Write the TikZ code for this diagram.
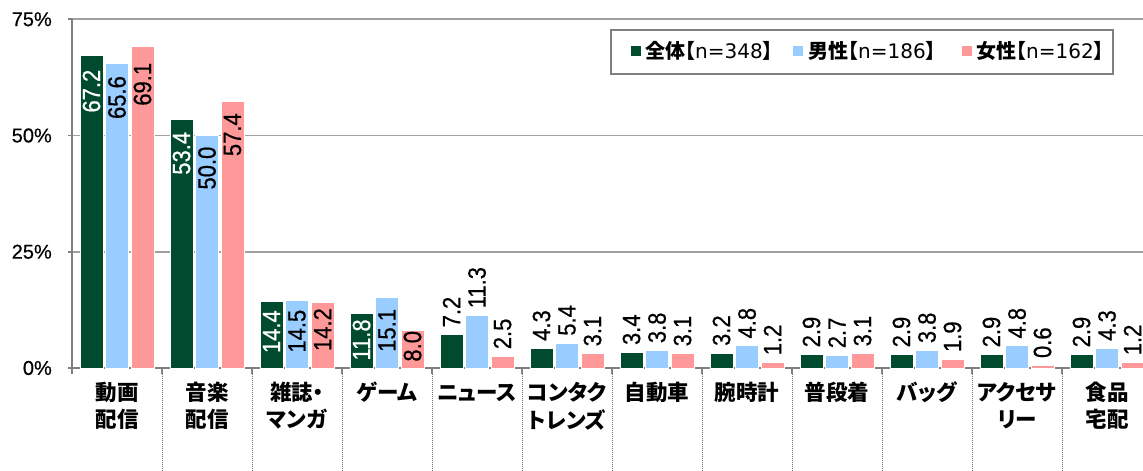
\documentclass[tikz,border=0pt]{standalone}
\usepackage{fontspec}
\setmainfont{Liberation Sans}
\newfontfamily\valfont{Liberation Sans}[FakeStretch=0.88,FakeBold=0.6]
\newfontfamily\ylabfont{Liberation Sans}[FakeBold=0.5]
\newfontfamily\cjkfont{Noto Sans CJK JP}[RawFeature={+palt}]
\newfontfamily\legnum{DejaVu Sans}
\definecolor{cdark}{RGB}{0,75,45}
\definecolor{cblue}{RGB}{153,204,255}
\definecolor{cpink}{RGB}{255,153,153}
\definecolor{cgrid}{RGB}{160,160,160}
\definecolor{caxis}{RGB}{128,128,128}
\definecolor{csep}{RGB}{110,110,110}
\newcommand\mybar[7]{%
  \path[barstyle, fill=#3] (#1,0) rectangle ++(23,{#2*4.65});
  \node[vallabel, text=#4, anchor=#5, rotate=90] (#7) at ({#1+11.5},{#2*4.65+#6}) {#2};
}
\begin{document}
\begin{tikzpicture}[x=1pt,y=1pt,
  gridline/.style={cgrid, line width=1.6},
  axisline/.style={caxis, line width=1.6},
  sepline/.style={csep, densely dotted, line width=1},
  barstyle/.style={draw=white, line width=0.7},
  vallabel/.style={font=\valfont\fontsize{25}{25}\selectfont, inner sep=0pt},
  ylab/.style={font=\ylabfont\fontsize{20}{20}\selectfont, anchor=east, inner sep=0pt},
  catlab/.style={font=\cjkfont\bfseries\fontsize{21.5}{21.5}\selectfont, inner sep=0pt},
  legbox/.style={draw=caxis, line width=1.5, minimum width=502pt, minimum height=44pt, inner sep=0pt},
  legsq/.style={minimum size=10pt, inner sep=0pt},
  legtext/.style={anchor=west, inner sep=0pt, font=\fontsize{20}{20}\selectfont}
]
\useasboundingbox (-72,-103) rectangle (1071,368);
% grid lines
\foreach \p in {1,2,3} \draw[gridline] (0,{\p*116.25}) -- (1071,{\p*116.25});
% axes
\draw[axisline] (0,0) -- (1071,0);
\draw[axisline] (0,0) -- (0,348.75);
\foreach \p in {0,1,2,3} \draw[axisline] (-4,{\p*116.25}) -- (0,{\p*116.25});
\foreach \g in {0,...,11} \draw[axisline] ({\g*90},0) -- ({\g*90},-6);
\foreach \g in {1,...,11} \draw[sepline] ({\g*90},-6) -- ({\g*90},-103);
% y labels
\node[ylab] (y0) at (-20,0) {0\%};
\node[ylab] (y25) at (-20,116.25) {25\%};
\node[ylab] (y50) at (-20,232.5) {50\%};
\node[ylab] (y75) at (-20,348.75) {75\%};
% bars
\foreach \g/\va/\vb/\vc/\oa/\ob/\oc/\anc/\ta in {
  0/67.2/65.6/69.1/-14/-13/-16/east/white,
  1/53.4/50.0/57.4/-12/-11/-12/east/white,
  2/14.4/14.5/14.2/-9/-9/-6/east/white,
  3/11.8/15.1/8.0/-6/-11/0/east/white,
  4/7.2/11.3/2.5/7/7/7/west/black,
  5/4.3/5.4/3.1/7/7/7/west/black,
  6/3.4/3.8/3.1/7/7/7/west/black,
  7/3.2/4.8/1.2/7/7/7/west/black,
  8/2.9/2.7/3.1/7/7/7/west/black,
  9/2.9/3.8/1.9/7/7/7/west/black,
  10/2.9/4.8/0.6/7/7/7/west/black,
  11/2.9/4.3/1.2/7/7/7/west/black}{
  \mybar{\g*90+8}{\va}{cdark}{\ta}{\anc}{\oa}{va\g}
  \mybar{\g*90+33.5}{\vb}{cblue}{black}{\anc}{\ob}{vb\g}
  \mybar{\g*90+59}{\vc}{cpink}{black}{\anc}{\oc}{vc\g}
}
% category labels, two lines
\foreach \g/\la/\lb in {0/動画/配信, 1/音楽/配信, 2/雑誌・/マンガ, 5/コンタク/トレンズ, 10/アクセサ/リー, 11/食品/宅配}{
  \node[catlab] (ca\g) at ({\g*90+45},-24.5) {\la};
  \node[catlab] (cb\g) at ({\g*90+45},-51.5) {\lb};
}
\foreach \g/\la in {3/ゲーム, 4/ニュース, 6/自動車, 7/腕時計, 8/普段着, 9/バッグ}{
  \node[catlab] (ca\g) at ({\g*90+45},-24.5) {\la};
}
% legend
\node[legbox] (legend) at (790,316) {};
\node[legsq, fill=cdark] (sq1) at (564,317) {};
\node[legtext] (lt1) at (573,317) {{\cjkfont\bfseries 全体【}{\legnum n=348}{\cjkfont\bfseries 】}};
\node[legsq, fill=cblue] (sq2) at (726,317) {};
\node[legtext] (lt2) at (736,317) {{\cjkfont\bfseries 男性【}{\legnum n=186}{\cjkfont\bfseries 】}};
\node[legsq, fill=cpink] (sq3) at (895,317) {};
\node[legtext] (lt3) at (904,317) {{\cjkfont\bfseries 女性【}{\legnum n=162}{\cjkfont\bfseries 】}};
\end{tikzpicture}
\end{document}
